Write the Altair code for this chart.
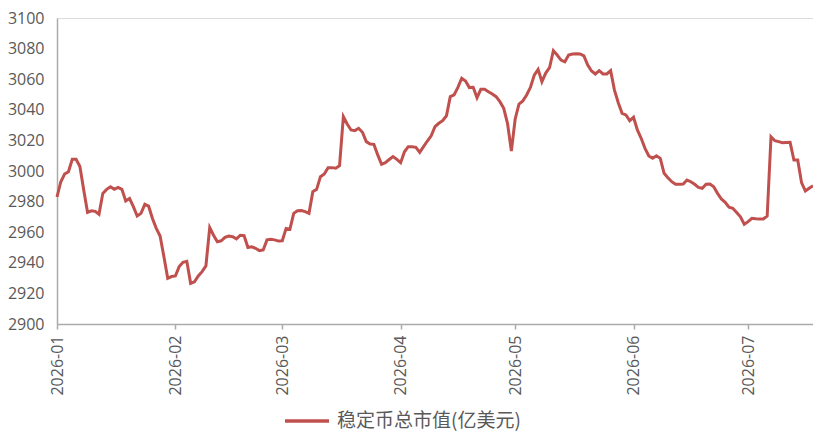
import altair as alt
import pandas as pd

series_name = "稳定币总市值(亿美元)"
start_date = "2026-01-01"
values = [
    2983, 2993, 2998, 2999.5, 3007.6, 3007.6, 3003, 2987.6, 2973, 2974,
    2973.6, 2971.7, 2985.4, 2988, 2989.7, 2988, 2989.3, 2988, 2980.4, 2982,
    2976.7, 2970.6, 2972.3, 2978.2, 2977, 2969, 2962.5, 2957.5, 2944, 2929.9,
    2931, 2931.4, 2937.5, 2940.3, 2941, 2926.6, 2927.6, 2931.4, 2934.2, 2938,
    2963, 2958, 2953.8, 2954.4, 2956.6, 2957.5, 2957, 2955.6, 2958, 2957.7,
    2950, 2950.5, 2949.5, 2948, 2948.4, 2955, 2955.4, 2955, 2954.2, 2954.4,
    2962.5, 2962, 2972.3, 2974, 2974.2, 2973.5, 2972.3, 2986.5, 2988, 2996.3,
    2998, 3002.2, 3002.2, 3001.8, 3003.5, 3035.5, 3030.7, 3026.8, 3026.4, 3027.9,
    3025.3, 3019.2, 3017.6, 3017.4, 3010.5, 3004.4, 3005.5, 3007.5, 3009.4, 3007.6,
    3005.4, 3012.6, 3015.9, 3015.9, 3015.5, 3012.2, 3015.9, 3019.6, 3023, 3029,
    3031.2, 3032.9, 3036.1, 3048.6, 3049.7, 3054.7, 3060.6, 3058.8, 3054.5, 3054.7,
    3047.9, 3053.4, 3053.4, 3051.8, 3050.3, 3048.6, 3045.3, 3041, 3031, 3013,
    3034, 3043.8, 3045.8, 3049.7, 3054.7, 3062.7, 3066.4, 3058.3, 3064, 3067.5,
    3078.6, 3075.8, 3072.5, 3071.4, 3075.8, 3076.5, 3076.6, 3076.5, 3075.2, 3069.3,
    3065.4, 3063.4, 3065.6, 3063.4, 3063.4, 3065.6, 3052.9, 3044.6, 3037.7, 3036.6,
    3032.9, 3035.1, 3026.8, 3021.4, 3014.8, 3009.8, 3008.3, 3010, 3008.3, 2998.5,
    2995.6, 2993, 2991.3, 2991.3, 2991.5, 2994.1, 2993, 2991.3, 2989.3, 2988.7,
    2991.3, 2991.5, 2989.7, 2985.4, 2981.7, 2979.5, 2976.3, 2975.6, 2972.8, 2970.1,
    2965.2, 2966.9, 2969.1, 2968.8, 2968.6, 2968.6, 2970.6, 3022.4, 3019.8, 3019.2,
    3018.5, 3018.6, 3018.7, 3007.2, 3007.2, 2992.4, 2986.9, 2988.7, 2990.4,
]
month_ticks = [1, 2, 3, 4, 5, 6, 7]
y_ticks = list(range(2900, 3101, 20))

dates = pd.date_range(start_date, periods=len(values), freq="D").strftime("%Y-%m-%d")
df = pd.DataFrame({"date": dates, "value": values, "series": series_name})

label_color = "#595959"
axis_color = "#ABABAB"
line_color = "#C0504D"

chart = (
    alt.Chart(df)
    .mark_line(strokeWidth=3, color=line_color)
    .encode(
        x=alt.X(
            "date:T",
            scale=alt.Scale(
                type="utc",
                domain=[
                    alt.DateTime(year=2026, month=1, date=1, utc=True),
                    alt.DateTime(year=2026, month=7, date=18, utc=True),
                ],
            ),
            axis=alt.Axis(
                title=None,
                values=[alt.DateTime(year=2026, month=m, date=1, utc=True) for m in month_ticks],
                labelExpr="utcFormat(datum.value, '%Y-%m')",
                labelAngle=-90,
                labelFontSize=16,
                labelFont="Open Sans",
                labelColor=label_color,
                labelPadding=6,
                tickSize=5,
                tickColor=axis_color,
                tickWidth=1.5,
                domainColor=axis_color,
                domainWidth=1.5,
                grid=False,
            ),
        ),
        y=alt.Y(
            "value:Q",
            scale=alt.Scale(domain=[2900, 3100], nice=False, zero=False),
            axis=alt.Axis(
                title=None,
                values=y_ticks,
                format="d",
                labelFontSize=16,
                labelFont="Open Sans",
                labelColor=label_color,
                labelPadding=13,
                ticks=False,
                domainColor=axis_color,
                domainWidth=1.5,
                grid=False,
            ),
        ),
        color=alt.Color(
            "series:N",
            scale=alt.Scale(domain=[series_name], range=[line_color]),
            legend=alt.Legend(
                title=None,
                orient="none",
                legendX=226,
                legendY=379,
                symbolType="stroke",
                symbolSize=1936,
                symbolStrokeWidth=3.5,
                labelFont="Noto Sans CJK SC",
                labelFontSize=19,
                labelColor=label_color,
                labelOffset=6,
                labelLimit=400,
                padding=0,
            ),
        ),
    )
    .properties(
        width=756,
        height=306,
        autosize=alt.AutoSizeParams(type="none"),
        padding={"left": 49, "top": 10, "right": 0, "bottom": 107},
    )
    .configure_view(stroke=axis_color, strokeWidth=1.5)
    .configure_legend(symbolStrokeWidth=3.5, symbolSize=1936)
    .configure(background="white")
)

chart.save("out.html", embed_options={"renderer": "svg", "actions": False})
